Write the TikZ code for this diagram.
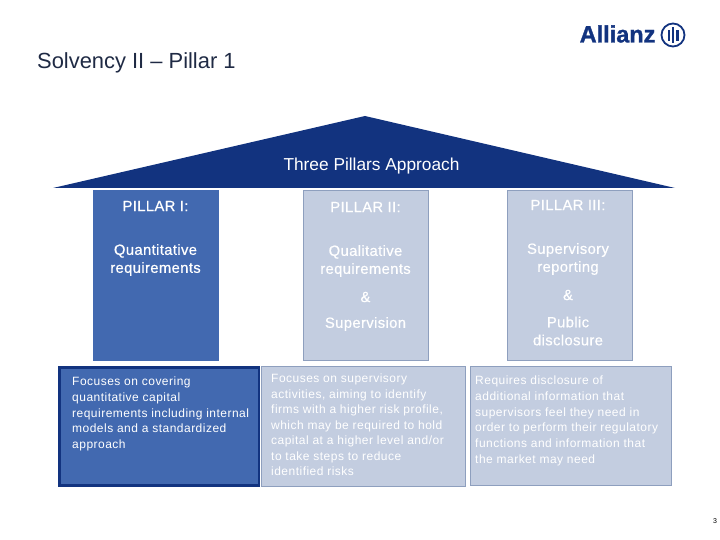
\documentclass[tikz,border=0pt]{standalone}
\usepackage{fontspec}
\setmainfont{Liberation Sans}
\newfontfamily\spaced[LetterSpace=4]{Liberation Sans}
\newfontfamily\headsp[LetterSpace=2.5,FakeBold=0.6]{Liberation Sans}
\newfontfamily\logofont[FakeBold=1.2]{Liberation Sans Bold}
\definecolor{roofblue}{HTML}{12337F}
\definecolor{midblue}{HTML}{4269B0}
\definecolor{paleblue}{HTML}{C3CDE0}
\definecolor{paleedge}{HTML}{8E9FBE}
\definecolor{titlegrey}{HTML}{1F2A44}
\tikzset{
  pillarbox/.style={draw=paleedge,fill=paleblue,line width=1pt},
  activebox/.style={draw=midblue,fill=midblue,line width=1pt},
  pillartext/.style={text=white,align=center,inner sep=0pt,font=\headsp\fontsize{14.8}{18}\selectfont},
  detail/.style={text=white,align=left,inner sep=0pt,anchor=north west,font=\spaced\fontsize{12}{15.7}\selectfont},
}
\begin{document}
\begin{tikzpicture}[x=1pt,y=-1pt]
\useasboundingbox (0,0) rectangle (720,540);
% title
\node[anchor=west,inner sep=0pt,text=titlegrey,font=\fontsize{21.9}{26}\selectfont] (title) at (37,63) {Solvency II – Pillar 1};
% logo
\node[anchor=west,inner sep=0pt,text=roofblue,font=\logofont\fontsize{23.5}{28}\selectfont] (logo) at (579.5,34) {Allianz};
\node[circle,draw=roofblue,line width=1.8pt,minimum size=23pt,inner sep=0pt] (logoring) at (673,35) {};
\fill[roofblue] (667.5,30) rectangle (669.5,41);
\fill[roofblue] (671.5,27) rectangle (674,43);
\fill[roofblue] (676,30) rectangle (678.5,41);
% roof
\fill[roofblue] (53,188) -- (365,116) -- (675,188) -- cycle;
\node[text=white,inner sep=0pt,font=\fontsize{17.3}{20}\selectfont] (roof) at (371.5,166) {Three Pillars Approach};
% pillars
\draw[activebox] (93.5,190.5) rectangle (218.5,360.5);
\draw[pillarbox] (303.5,190.5) rectangle (428.5,360.5);
\draw[pillarbox] (507.5,190.5) rectangle (632.5,360.5);
\node[pillartext] (p1a) at (155.5,206) {PILLAR I:};
\node[pillartext] (p1b) at (155.5,260) {Quantitative\\requirements};
\node[pillartext] (p2a) at (365.5,207) {PILLAR II:};
\node[pillartext] (p2b) at (365.5,261) {Qualitative\\requirements};
\node[pillartext] (p2c) at (365.5,297) {\&};
\node[pillartext] (p2d) at (365.5,324) {Supervision};
\node[pillartext] (p3a) at (568,205) {PILLAR III:};
\node[pillartext] (p3b) at (568,259) {Supervisory\\reporting};
\node[pillartext] (p3c) at (568,295) {\&};
\node[pillartext] (p3d) at (568,331) {Public\\disclosure};
% detail boxes
\draw[draw=roofblue,fill=midblue,line width=2.6pt] (59.5,367.5) rectangle (259,485.5);
\draw[pillarbox] (261.5,366.5) rectangle (465.5,486.5);
\draw[pillarbox] (470.5,366.5) rectangle (671.5,485.5);
\node[detail] (d1) at (72,377) {Focuses on covering\\quantitative capital\\requirements including internal\\models and a standardized\\approach};
\node[detail,font=\spaced\fontsize{12}{15.45}\selectfont] (d2) at (271,374) {Focuses on supervisory\\activities, aiming to identify\\firms with a higher risk profile,\\which may be required to hold\\capital at a higher level and/or\\to take steps to reduce\\identified risks};
\node[detail] (d3) at (475,376) {Requires disclosure of\\additional information that\\supervisors feel they need in\\order to perform their regulatory\\functions and information that\\the market may need};
% page number
\node[inner sep=0pt,text=black,font=\fontsize{7}{8}\selectfont] (page) at (715,521) {3};
\end{tikzpicture}
\end{document}
